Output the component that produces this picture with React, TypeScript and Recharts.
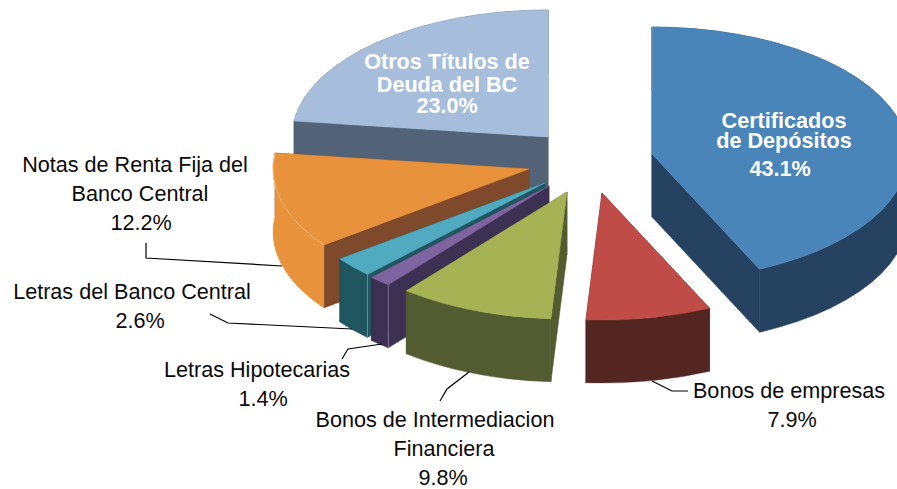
import React from "react";
import { PieChart, Pie } from "recharts";

// Draw order is back to front; the pie runs counter-clockwise from 12 o'clock.
const categories = [
  "Otros Títulos de Deuda del BC",
  "Notas de Renta Fija del Banco Central",
  "Letras del Banco Central",
  "Letras Hipotecarias",
  "Bonos de Intermediacion Financiera",
  "Bonos de empresas",
  "Certificados de Depósitos",
];
const shares = [23.0, 12.2, 2.6, 1.4, 9.8, 7.9, 43.1];
const labelLines = [
  ["Otros Títulos de", "Deuda del BC"],
  ["Notas de Renta Fija del", "Banco Central"],
  ["Letras del Banco Central"],
  ["Letras Hipotecarias"],
  ["Bonos de Intermediacion", "Financiera"],
  ["Bonos de empresas"],
  ["Certificados", "de Depósitos"],
];

const tableRows = categories.map((name, i) => ({ name, value: shares[i] }));

// ---- styling and layout only ----
const W = 897;
const H = 489;
const CX = 548;
const CY = 165;
const RX = 256;
const RY = 127;
const DEPTH = 63;
const FONT = '"Liberation Sans", Arial, sans-serif';

const topColors = ["#A6BEDC", "#E8923B", "#50ABC1", "#7F659F", "#A6B354", "#BF4C47", "#4A85BA"];
const radialColors = ["#526378", "#7E4A2B", "#20565F", "#3C3152", "#535B30", "#542622", "#254261"];
const rimColors = ["#526378", "#E8923B", "#20565F", "#3C3152", "#535B30", "#542622", "#254261"];
const seamColors = ["none", "#F4C99A", "#6FA3AD", "#8A80A0", "none", "none", "#7F97AE"];
const explode: [number, number][] = [
  [0, -28], [-19, 4], [-3, 18], [1, 21], [19, 27], [54, 28], [104, -11],
];
// x centre + baseline for each text line; the last row of each is the percentage
const textSpots: [number, number][][] = [
  [[447, 69], [447, 92], [447, 113]],
  [[135, 172], [140, 201], [141, 230]],
  [[132, 299], [140, 328]],
  [[257, 377], [263, 406]],
  [[435, 427], [444, 456], [443, 485]],
  [[789, 398], [792, 427]],
  [[784, 128], [784, 148], [780, 176]],
];
const leaders: string[] = [
  "",
  "146,243 146,258 282,266",
  "210,314 228,323 352,329",
  "342,359 348,349 382,344",
  "440,401 447,389 469,372",
  "652,381 672,391 688,391",
  "",
];

const pt = (x: number, y: number, a: number): [number, number] => {
  const r = (a * Math.PI) / 180;
  return [x + RX * Math.cos(r), y - RY * Math.sin(r)];
};

const SliceShape = (props: any) => {
  const i = categories.indexOf(props.name ?? props.payload?.name);
  const [dx, dy] = explode[i];
  const x = (props.cx ?? CX) + dx;
  const y = (props.cy ?? CY) + dy;
  const a0 = props.startAngle;
  const a1 = props.endAngle;
  const [sx, sy] = pt(x, y, a0);
  const [ex, ey] = pt(x, y, a1);
  const large = Math.abs(a1 - a0) > 180 ? 1 : 0;
  const sweep = a1 > a0 ? 0 : 1;
  const back = sweep ? 0 : 1;
  const top = `M${x},${y} L${sx},${sy} A${RX},${RY} 0 ${large} ${sweep} ${ex},${ey} Z`;
  const rim = `M${sx},${sy} A${RX},${RY} 0 ${large} ${sweep} ${ex},${ey} L${ex},${ey + DEPTH} A${RX},${RY} 0 ${large} ${back} ${sx},${sy + DEPTH} Z`;
  const wallA = `M${x},${y} L${sx},${sy} L${sx},${sy + DEPTH} L${x},${y + DEPTH} Z`;
  const wallB = `M${x},${y} L${ex},${ey} L${ex},${ey + DEPTH} L${x},${y + DEPTH} Z`;
  const lowerA = Math.sin((a0 * Math.PI) / 180) < 0;
  const lowerB = Math.sin((a1 * Math.PI) / 180) < 0;
  const seamPt = i === 6 || i === 2 || i === 3 ? [ex, ey] : null;
  return (
    <g>
      <path d={wallA} fill={radialColors[i]} stroke={radialColors[i]} strokeWidth={0.5} />
      <path d={wallB} fill={radialColors[i]} stroke={radialColors[i]} strokeWidth={0.5} />
      <path d={rim} fill={rimColors[i]} stroke={rimColors[i]} strokeWidth={0.5} />
      <path d={top} fill={topColors[i]} stroke={topColors[i]} strokeWidth={0.5} />
      {seamPt && (lowerA || lowerB) ? (
        <line x1={seamPt[0]} y1={seamPt[1]} x2={seamPt[0]} y2={seamPt[1] + DEPTH} stroke={seamColors[i]} strokeWidth={0.8} />
      ) : null}
      {i === 1 ? (
        <path d={`M${sx},${sy} A${RX},${RY} 0 0 ${sweep} ${ex},${ey}`} fill="none" stroke={seamColors[i]} strokeWidth={0.7} />
      ) : null}
    </g>
  );
};

const SliceLabel = (props: any) => {
  const i = categories.indexOf(props.name ?? props.payload?.name);
  const lines = [...labelLines[i], `${shares[i].toFixed(1)}%`];
  const inside = i === 0 || i === 6;
  return (
    <g>
      {leaders[i] ? <polyline points={leaders[i]} fill="none" stroke="#000" strokeWidth={1.2} /> : null}
      {lines.map((t, k) => (
        <text
          key={k}
          x={textSpots[i][k][0]}
          y={textSpots[i][k][1]}
          textAnchor="middle"
          fontFamily={FONT}
          fontSize={21.6}
          fontWeight={inside ? 700 : 400}
          fill={inside ? "#FFFFFF" : "#0A0A0A"}
        >
          {t}
        </text>
      ))}
    </g>
  );
};

export default function App() {
  return (
    <div style={{ position: "absolute", left: 0, top: 0, width: W, height: H, overflow: "hidden", background: "#fff" }}>
      <PieChart width={W} height={H} margin={{ top: 0, right: 0, bottom: 0, left: 0 }}>
        <Pie
          data={tableRows}
          dataKey="value"
          nameKey="name"
          cx={CX}
          cy={CY}
          innerRadius={0}
          outerRadius={RX}
          startAngle={90}
          endAngle={450}
          stroke="none"
          isAnimationActive={false}
          shape={SliceShape}
          activeShape={SliceShape}
          inactiveShape={SliceShape}
          label={SliceLabel}
          labelLine={false}
        />
      </PieChart>
    </div>
  );
}
